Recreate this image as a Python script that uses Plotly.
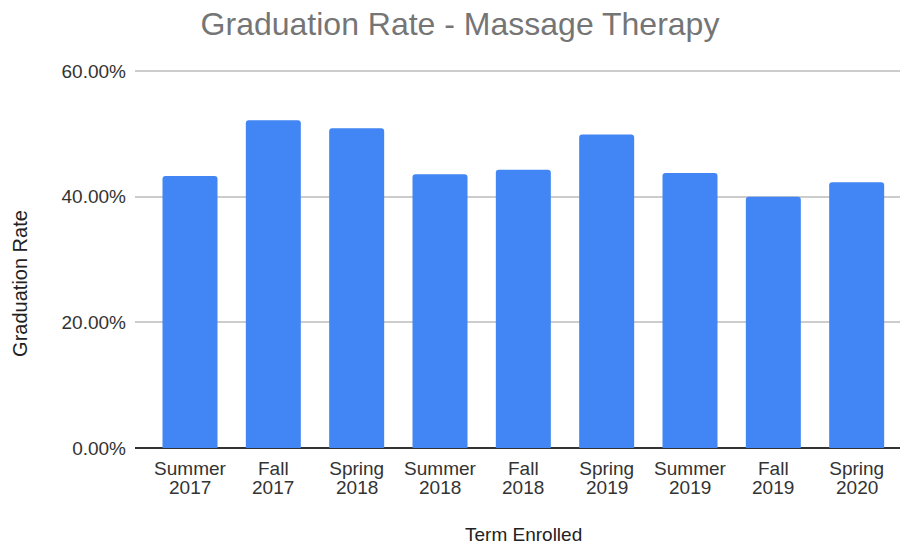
import plotly.graph_objects as go

terms = ["Summer", "Fall", "Spring", "Summer", "Fall", "Spring", "Summer", "Fall", "Spring"]
years = ["2017", "2017", "2018", "2018", "2018", "2019", "2019", "2019", "2020"]
rates = [43.3, 52.2, 50.9, 43.6, 44.3, 49.9, 43.8, 40.0, 42.3]
y_ticks = [0, 20, 40, 60]
y_tick_labels = ["0.00%", "20.00%", "40.00%", "60.00%"]

cats = list(range(len(terms)))
FONT = "Liberation Sans, Arial, sans-serif"

W, H = 901, 546
L, R, T, B = 135, 1, 67.6, 97.5
Y_MAX = 60.5
plot_h = H - T - B
plot_w = W - L - R

fig = go.Figure(go.Bar(
    x=cats, y=rates, marker=dict(color="#4285F4", line=dict(width=0)),
    width=0.66, hovertemplate="%{y:.2f}%<extra></extra>",
))

annotations = []
for i, yr in enumerate(years):
    annotations.append(dict(
        x=i, xref="x", y=0, yref="y", text=yr, showarrow=False,
        yshift=-39, yanchor="middle", font=dict(size=19, color="#333333", family=FONT),
    ))
annotations.append(dict(
    x=(523 - L) / plot_w, xref="paper", y=-(535 - (H - B)) / plot_h, yref="paper",
    text="Term Enrolled", showarrow=False, yanchor="middle", xanchor="center",
    font=dict(size=19, color="#222222", family=FONT),
))
annotations.append(dict(
    x=(20 - L) / plot_w, xref="paper", y=((H - B) - 284) / plot_h, yref="paper",
    text="Graduation Rate", showarrow=False, textangle=-90,
    xanchor="center", yanchor="middle",
    font=dict(size=20, color="#222222", family=FONT),
))

fig.update_layout(
    width=W, height=H,
    margin=dict(l=L, r=R, t=T, b=B),
    paper_bgcolor="white", plot_bgcolor="white",
    font=dict(family=FONT, color="#333333"),
    title=dict(text="Graduation Rate - Massage Therapy", x=460 / W, xanchor="center",
               xref="container", y=1 - 24 / H, yref="container", yanchor="middle",
               font=dict(size=32, color="#757575", family=FONT)),
    barcornerradius=3,
    showlegend=False,
    annotations=annotations,
    xaxis=dict(
        tickmode="array", tickvals=cats, ticktext=terms, range=[-0.66, 8.52],
        showgrid=False, zeroline=False, showline=False, ticks="",
        tickfont=dict(size=19, color="#333333"), ticklabelstandoff=7,
    ),
    yaxis=dict(
        range=[0, Y_MAX], tickmode="array", tickvals=y_ticks, ticktext=y_tick_labels,
        showgrid=True, gridcolor="#cccccc", gridwidth=1.5, zeroline=True,
        zerolinecolor="#333333", zerolinewidth=2, showline=False, ticks="",
        tickfont=dict(size=19, color="#333333"), ticklabelstandoff=8,
    ),
)

fig.write_html("out.html", config={"displayModeBar": False},
               post_script="document.body.style.margin='0';")
